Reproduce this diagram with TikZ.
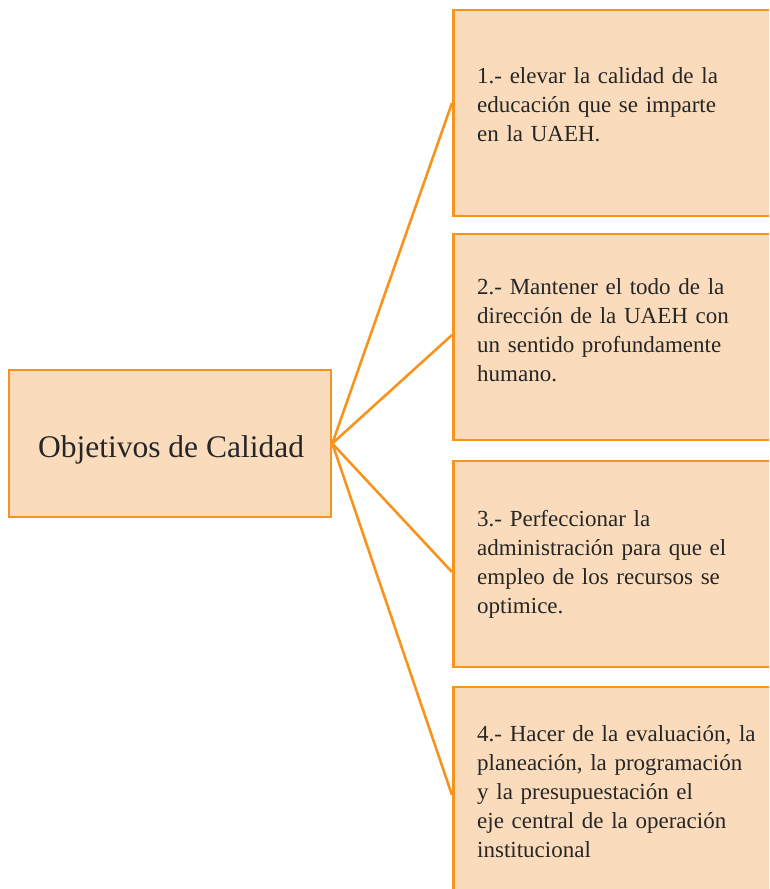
\documentclass[tikz,border=0pt]{standalone}
\usepackage{fontspec}
\setmainfont{Liberation Serif}
\definecolor{borde}{RGB}{247,148,29}
\definecolor{relleno}{RGB}{250,220,188}
\tikzset{
    caja/.style={draw=borde, fill=relleno, line width=2.6pt, text=black!85},
    objetivo/.style={caja, minimum width=330pt, minimum height=206pt, anchor=west},
    texto/.style={text width=290pt, inner sep=0pt, align=left, anchor=west, text=black!85,
        font=\fontsize{23}{29}\selectfont},
    conector/.style={draw=borde, line width=2.6pt}
}
\begin{document}
\begin{tikzpicture}[x=1pt, y=-1pt]
    \useasboundingbox (0,0) rectangle (769,889);
    \clip (0,0) rectangle (769,889);
    \node[caja, minimum width=322pt, minimum height=147pt] (titulo) at (170,443.5) {};
    \node[text=black!85, font=\fontsize{31.5}{36}\selectfont] (tt) at (171,449.5) {Objetivos de Calidad};
    % cajas de los objetivos
    \node[objetivo] (obj1) at (452,113) {};
    \node[objetivo] (obj2) at (452,337) {};
    \node[objetivo] (obj3) at (452,564) {};
    \node[objetivo] (obj4) at (452,790) {};
    \node[texto] (t1) at (477,105) {1.- elevar la calidad de la\\educación que se imparte\\en la UAEH.};
    \node[texto] (t2) at (477,330.5) {2.- Mantener el todo de la\\dirección de la UAEH con\\un sentido profundamente\\humano.};
    \node[texto] (t3) at (477,564.5) {3.- Perfeccionar la\\administración para que el\\empleo de los recursos se\\optimice.};
    \node[texto] (t4) at (477,792) {4.- Hacer de la evaluación, la\\planeación, la programación\\y la presupuestación el\\eje central de la operación\\institucional};
    \foreach \i/\y in {1/103,2/335,3/572,4/795} {
        \draw[conector] (titulo.east) -- (obj\i.west |- 0,\y);
    }
\end{tikzpicture}
\end{document}
